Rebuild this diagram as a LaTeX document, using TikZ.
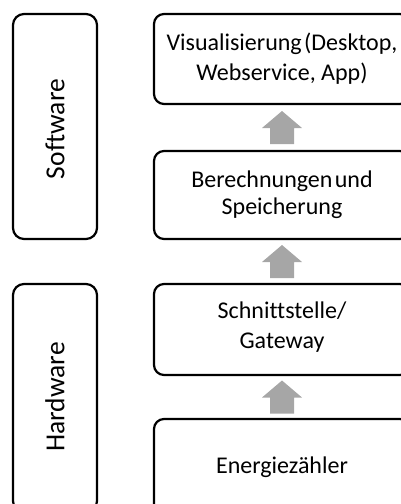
\documentclass[tikz,border=0pt]{standalone}
\usepackage{fontspec}
\setmainfont[Ligatures={NoCommon}]{Carlito}
\usetikzlibrary{calc}
\definecolor{arrowgray}{HTML}{A6A6A6}
\newcommand{\tightsp}{\hspace{0.1em}}
\tikzset{
  layer/.style={draw=black, line width=2.2pt, rounded corners=10pt, fill=white},
  sidebox/.style={draw=black, line width=2.2pt, rounded corners=11pt, fill=white},
  boxtext/.style={align=center, font=\fontsize{24}{30}\selectfont},
  sidetext/.style={rotate=90, font=\fontsize{27.5}{32}\selectfont},
  uparrow/.style={fill=arrowgray}
}
\begin{document}
\begin{tikzpicture}[x=1pt,y=-1pt]
\useasboundingbox (0,0) rectangle (401,504);
\clip (0,0) rectangle (401,504);

% side groups
\draw[sidebox] (13,14) rectangle (97,239);
\node[sidetext] (sw) at (55,129) {Software};
\draw[sidebox] (13,284) rectangle (97,512);
\node[sidetext] (hw) at (55,397) {Hardware};

% layer stack
\draw[layer] (154,14) rectangle (410,104);
\node[boxtext] (b1) at (282,59) {Visualisierung\tightsp(Desktop,\\Webservice, App)};
\draw[layer] (154,151) rectangle (410,239);
\node[boxtext, font=\fontsize{24}{27}\selectfont] (b2) at (282,195) {Berechnungen\tightsp und\\Speicherung};
\draw[layer] (154,284) rectangle (410,375);
\node[boxtext] (b3) at (282,327) {Schnittstelle/\\Gateway};
\draw[layer] (154,419) rectangle (410,515);
\node[boxtext] (b4) at (282,467) {Energiezähler};

% anchors of the frames for the arrows
\coordinate (t1) at (282,104);
\coordinate (t2) at (282,151);
\coordinate (t3) at (282,239);
\coordinate (t4) at (282,284);
\coordinate (t5) at (282,375);
\coordinate (t6) at (282,419);

% block arrows between layers
\foreach \lo/\hi in {t2/t1, t4/t3, t6/t5}{
  \path (\lo) -- (\hi) coordinate[pos=0.5] (m);
  \fill[uparrow] ($(m)+(0,-16.5)$) -- ($(m)+(20,0.5)$) -- ($(m)+(12,0.5)$)
    -- ($(m)+(12,16.5)$) -- ($(m)+(-12,16.5)$) -- ($(m)+(-12,0.5)$)
    -- ($(m)+(-20,0.5)$) -- cycle;
}
\end{tikzpicture}
\end{document}
